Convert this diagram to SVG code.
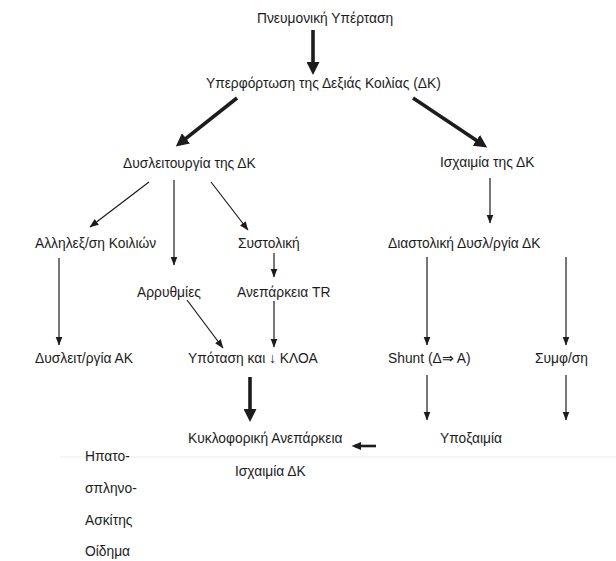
<svg xmlns="http://www.w3.org/2000/svg" width="616" height="561" viewBox="0 0 616 561">
<defs>
<style>
text{font-family:"Liberation Sans",Arial,sans-serif;font-size:13.8px;fill:#1c1c1c}
.thin{stroke:#1c1c1c;stroke-width:1.2;fill:none;marker-end:url(#ah)}
.thick{stroke:#1c1c1c;stroke-width:3.6;fill:none;marker-end:url(#ahb)}
.med{stroke:#1c1c1c;stroke-width:2.6;fill:none;marker-end:url(#ahm)}
</style>
<marker id="ah" markerUnits="userSpaceOnUse" markerWidth="10" markerHeight="8" refX="8.5" refY="3.5" orient="auto">
<path d="M0,0 L9,3.5 L0,7 z" fill="#1c1c1c"/>
</marker>
<marker id="ahb" markerUnits="userSpaceOnUse" markerWidth="14" markerHeight="13" refX="8" refY="6.5" orient="auto">
<path d="M0,0 L13,6.5 L0,13 z" fill="#1c1c1c"/>
</marker>
<marker id="ahm" markerUnits="userSpaceOnUse" markerWidth="10" markerHeight="9" refX="6" refY="4" orient="auto">
<path d="M0,0 L9.5,4 L0,8 z" fill="#1c1c1c"/>
</marker>
</defs>
<rect width="616" height="561" fill="#ffffff"/>
<line x1="60" y1="457" x2="616" y2="457" stroke="#ececec" stroke-width="1"/>
<g id="connectors">
<line class="thick" x1="313" y1="30" x2="313" y2="70"/>
<line class="thick" x1="237" y1="98" x2="179.7" y2="143.3"/>
<line class="thick" x1="413" y1="98" x2="483" y2="144.7"/>
<line class="thin" x1="149" y1="182" x2="90" y2="227"/>
<line class="thin" x1="174" y1="180" x2="174" y2="265"/>
<line class="thin" x1="211" y1="182" x2="248" y2="230"/>
<line class="thin" x1="274" y1="253" x2="274" y2="277"/>
<line class="thin" x1="59" y1="258" x2="59" y2="345"/>
<line class="thin" x1="187" y1="300" x2="223" y2="348"/>
<line class="thin" x1="274" y1="301" x2="274" y2="347"/>
<line class="thick" x1="250" y1="377" x2="250" y2="417"/>
<line class="thin" x1="490" y1="178" x2="490" y2="223"/>
<line class="thin" x1="427" y1="257" x2="427" y2="345"/>
<line class="thin" x1="566" y1="257" x2="566" y2="345"/>
<line class="thin" x1="427" y1="375" x2="427" y2="420"/>
<line class="thin" x1="566" y1="375" x2="566" y2="420"/>
<line class="med" x1="376" y1="446" x2="355" y2="446"/>
</g>
<g id="n-pnevmoniki"><text x="257" y="23">Πνευμονική Υπέρταση</text></g>
<g id="n-yperfortosi"><text x="206" y="88">Υπερφόρτωση της Δεξιάς Κοιλίας (ΔΚ)</text></g>
<g id="n-dysleitourgia"><text x="123" y="168">Δυσλειτουργία της ΔΚ</text></g>
<g id="n-ischaimia"><text x="440" y="167">Ισχαιμία της ΔΚ</text></g>
<g id="n-allilexartisi"><text x="35" y="248">Αλληλεξ/ση Κοιλιών</text></g>
<g id="n-systoliki"><text x="238" y="248">Συστολική</text></g>
<g id="n-diastoliki"><text x="388" y="248">Διαστολική Δυσλ/ργία ΔΚ</text></g>
<g id="n-arrythmies"><text x="137" y="297">Αρρυθμίες</text></g>
<g id="n-aneparkeia-tr"><text x="237" y="297">Ανεπάρκεια TR</text></g>
<g id="n-dysleit-ak"><text x="35" y="363">Δυσλειτ/ργία ΑΚ</text></g>
<g id="n-ypotasi"><text x="188" y="363">Υπόταση και ↓ ΚΛΟΑ</text></g>
<g id="n-shunt"><text x="388" y="363">Shunt (Δ⇒ Α)</text></g>
<g id="n-symfysi"><text x="535" y="363">Συμφ/ση</text></g>
<g id="n-kykloforiki"><text x="188" y="443">Κυκλοφορική Ανεπάρκεια</text></g>
<g id="n-ypoxaimia"><text x="440" y="443">Υποξαιμία</text></g>
<g id="n-ischaimia-dk"><text x="235" y="476">Ισχαιμία ΔΚ</text></g>
<g id="n-list">
<text x="85" y="461">Ηπατο-</text>
<text x="85" y="493">σπληνο-</text>
<text x="85" y="525">Ασκίτης</text>
<text x="85" y="556">Οίδημα</text>
</g>
</svg>
